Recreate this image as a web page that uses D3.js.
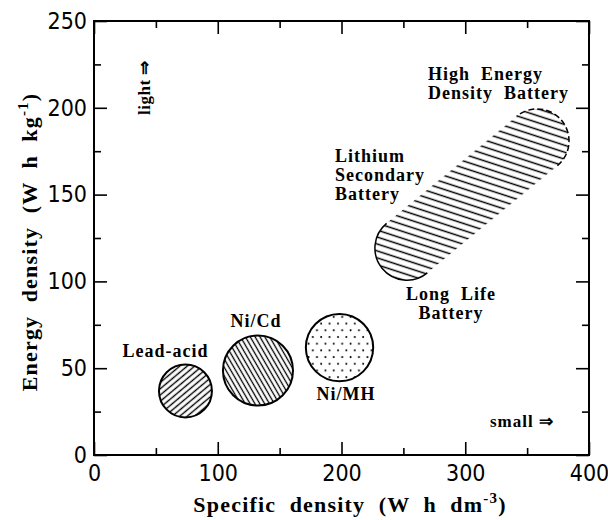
<!DOCTYPE html>
<html><head><meta charset="utf-8">
<script src="https://cdn.jsdelivr.net/npm/d3@7"></script>
<style>body{margin:0;background:#fff} svg{display:block}</style>
</head><body><svg id="c" width="608" height="520"></svg>
<script>
// ---- data ----
const xTickValues = [0, 100, 200, 300, 400];
const xMinorTicks = [50, 150, 250, 350];
const yTickValues = [0, 50, 100, 150, 200, 250];
const yMinorTicks = [25, 75, 125, 175, 225];
const cellNames = ["Lead-acid", "Ni/Cd", "Ni/MH"];
const cellSpecific = [73.9, 132.5, 198.4];   // W h dm-3 (centre)
const cellEnergy = [36.9, 48.7, 61.9];       // W h kg-1 (centre)
const cellRadius = [21.4, 28.3, 27.2];       // in W h dm-3 units
const lithiumSpecific = [252.9, 358.0];      // ends of the lithium region
const lithiumEnergy = [119.2, 180.9];
const lithiumRadius = 25.9;

// ---- chart ----
const svg = d3.select("#c");
const x = d3.scaleLinear().domain([0, 400]).range([94, 589]);
const y = d3.scaleLinear().domain([0, 250]).range([455, 21]);
const tickFont = '"Liberation Sans Narrow","DejaVu Sans Condensed",sans-serif';
const serif = '"Liberation Serif","Times New Roman",serif';

svg.append("rect").attr("width", 608).attr("height", 520).attr("fill", "#fff");

const defs = svg.append("defs");
function hatch(id, spacing, angle, sw) {
  const p = defs.append("pattern").attr("id", id).attr("patternUnits", "userSpaceOnUse")
    .attr("width", 20).attr("height", spacing).attr("patternTransform", `rotate(${angle})`);
  p.append("line").attr("x1", 0).attr("x2", 20).attr("y1", spacing / 2).attr("y2", spacing / 2)
    .attr("stroke", "#000").attr("stroke-width", sw);
}
hatch("hLead", 4.8, -40, 1.4);
hatch("hNiCd", 4.2, 60, 1.3);
hatch("hLi", 6.6, 18, 1.5);
const dots = defs.append("pattern").attr("id", "hDots").attr("patternUnits", "userSpaceOnUse")
  .attr("width", 8.4).attr("height", 13.4);
dots.append("circle").attr("cx", 2).attr("cy", 2).attr("r", 1).attr("fill", "#000");
dots.append("circle").attr("cx", 6.2).attr("cy", 8.7).attr("r", 1).attr("fill", "#000");
const fills = ["url(#hLead)", "url(#hNiCd)", "url(#hDots)"];

// frame
svg.append("rect").attr("x", x(0)).attr("y", y(250))
  .attr("width", x(400) - x(0)).attr("height", y(0) - y(250))
  .attr("fill", "none").attr("stroke", "#000").attr("stroke-width", 2);

function styleAxis(g) {
  g.select(".domain").remove();
  g.selectAll(".tick line").attr("stroke", "#000").attr("stroke-width", 1.6);
  g.selectAll("text").attr("font-family", tickFont).attr("font-size", 23).attr("fill", "#000");
}
// bottom
svg.append("g").attr("transform", `translate(0,${y(0)})`)
  .call(d3.axisBottom(x).tickValues(xTickValues).tickSize(-13).tickPadding(10).tickFormat(d3.format("d"))).call(styleAxis);
svg.append("g").attr("transform", `translate(0,${y(0)})`)
  .call(d3.axisBottom(x).tickValues(xMinorTicks).tickSize(-7).tickFormat("")).call(styleAxis);
// top
svg.append("g").attr("transform", `translate(0,${y(250)})`)
  .call(d3.axisTop(x).tickValues(xTickValues).tickSize(-13).tickFormat("")).call(styleAxis);
svg.append("g").attr("transform", `translate(0,${y(250)})`)
  .call(d3.axisTop(x).tickValues(xMinorTicks).tickSize(-7).tickFormat("")).call(styleAxis);
// left
svg.append("g").attr("transform", `translate(${x(0)},0)`)
  .call(d3.axisLeft(y).tickValues(yTickValues).tickSize(-13).tickPadding(7).tickFormat(d3.format("d"))).call(styleAxis);
svg.append("g").attr("transform", `translate(${x(0)},0)`)
  .call(d3.axisLeft(y).tickValues(yMinorTicks).tickSize(-7).tickFormat("")).call(styleAxis);
// right
svg.append("g").attr("transform", `translate(${x(400)},0)`)
  .call(d3.axisRight(y).tickValues(yTickValues).tickSize(-13).tickFormat("")).call(styleAxis);
svg.append("g").attr("transform", `translate(${x(400)},0)`)
  .call(d3.axisRight(y).tickValues(yMinorTicks).tickSize(-7).tickFormat("")).call(styleAxis);

// cells
svg.append("g").selectAll("circle").data(cellNames).join("circle")
  .attr("cx", (d, i) => x(cellSpecific[i]))
  .attr("cy", (d, i) => y(cellEnergy[i]))
  .attr("r", (d, i) => x(cellRadius[i]) - x(0))
  .attr("fill", (d, i) => fills[i])
  .attr("stroke", "#000").attr("stroke-width", 2);

// lithium capsule
(function () {
  const p1 = [x(lithiumSpecific[0]), y(lithiumEnergy[0])];
  const p2 = [x(lithiumSpecific[1]), y(lithiumEnergy[1])];
  const r = x(lithiumRadius) - x(0);
  const a = Math.atan2(p2[1] - p1[1], p2[0] - p1[0]);
  const n = [-Math.sin(a) * r, Math.cos(a) * r];
  const A = [p1[0] + n[0], p1[1] + n[1]], B = [p2[0] + n[0], p2[1] + n[1]];
  const C = [p2[0] - n[0], p2[1] - n[1]], D = [p1[0] - n[0], p1[1] - n[1]];
  svg.append("path")
    .attr("d", `M${A}L${B}A${r},${r} 0 0 0 ${C}L${D}A${r},${r} 0 0 0 ${A}Z`)
    .attr("fill", "url(#hLi)").attr("stroke", "none");
  svg.append("path").attr("d", `M${D}A${r},${r} 0 0 0 ${A}`)
    .attr("fill", "none").attr("stroke", "#000").attr("stroke-width", 1.5);
  svg.append("path").attr("d", `M${B}A${r},${r} 0 0 0 ${C}`)
    .attr("fill", "none").attr("stroke", "#000").attr("stroke-width", 1.5).attr("stroke-dasharray", "6,3");
})();

// labels
function label(lines, xv, yv, anchor, size, lh) {
  const t = svg.append("text").attr("x", x(xv)).attr("y", y(yv))
    .attr("font-family", serif).attr("font-weight", "bold").attr("font-size", size || 18)
    .attr("letter-spacing", 1).attr("text-anchor", anchor || "start").attr("fill", "#000")
    .attr("style", "white-space:pre");
  lines.forEach((s, i) => t.append("tspan").attr("x", x(xv)).attr("dy", i ? (lh || 19) : 0).text(s));
}
label(["Lead-acid"], 57.8, 56.5, "middle");
label(["Ni/Cd"], 130.9, 73.7, "middle");
label(["Ni/MH"], 203.6, 31.7, "middle");
label(["Lithium", "Secondary", "Battery"], 194.7, 168.8, "start");
label(["High  Energy", "Density  Battery"], 269.9, 216, "start");
label(["Long  Life", "Battery"], 288.5, 89.3, "middle");
label(["small ⇒"], 320, 16.1, "start", 17);
svg.append("text").attr("transform", `translate(${x(45.5)},${y(195.9)}) rotate(-90)`)
  .attr("font-family", serif).attr("font-weight", "bold").attr("font-size", 17)
  .attr("letter-spacing", 0.5).attr("fill", "#000").text("light ⇒");

// axis titles
const xt = svg.append("text").attr("x", 350).attr("y", 512).attr("text-anchor", "middle")
  .attr("font-family", serif).attr("font-weight", "bold").attr("font-size", 22)
  .attr("letter-spacing", 1.2).attr("style", "white-space:pre").attr("fill", "#000");
xt.append("tspan").text("Specific  density  (W  h  dm");
xt.append("tspan").attr("dy", -9).attr("font-size", 15).text("-3");
xt.append("tspan").attr("dy", 9).text(")");

const yt = svg.append("text").attr("transform", "translate(37,242) rotate(-90)").attr("text-anchor", "middle")
  .attr("font-family", serif).attr("font-weight", "bold").attr("font-size", 22)
  .attr("letter-spacing", 1.2).attr("style", "white-space:pre").attr("fill", "#000");
yt.append("tspan").text("Energy  density  (W  h  kg");
yt.append("tspan").attr("dy", -9).attr("font-size", 15).text("-1");
yt.append("tspan").attr("dy", 9).text(")");
</script></body></html>
